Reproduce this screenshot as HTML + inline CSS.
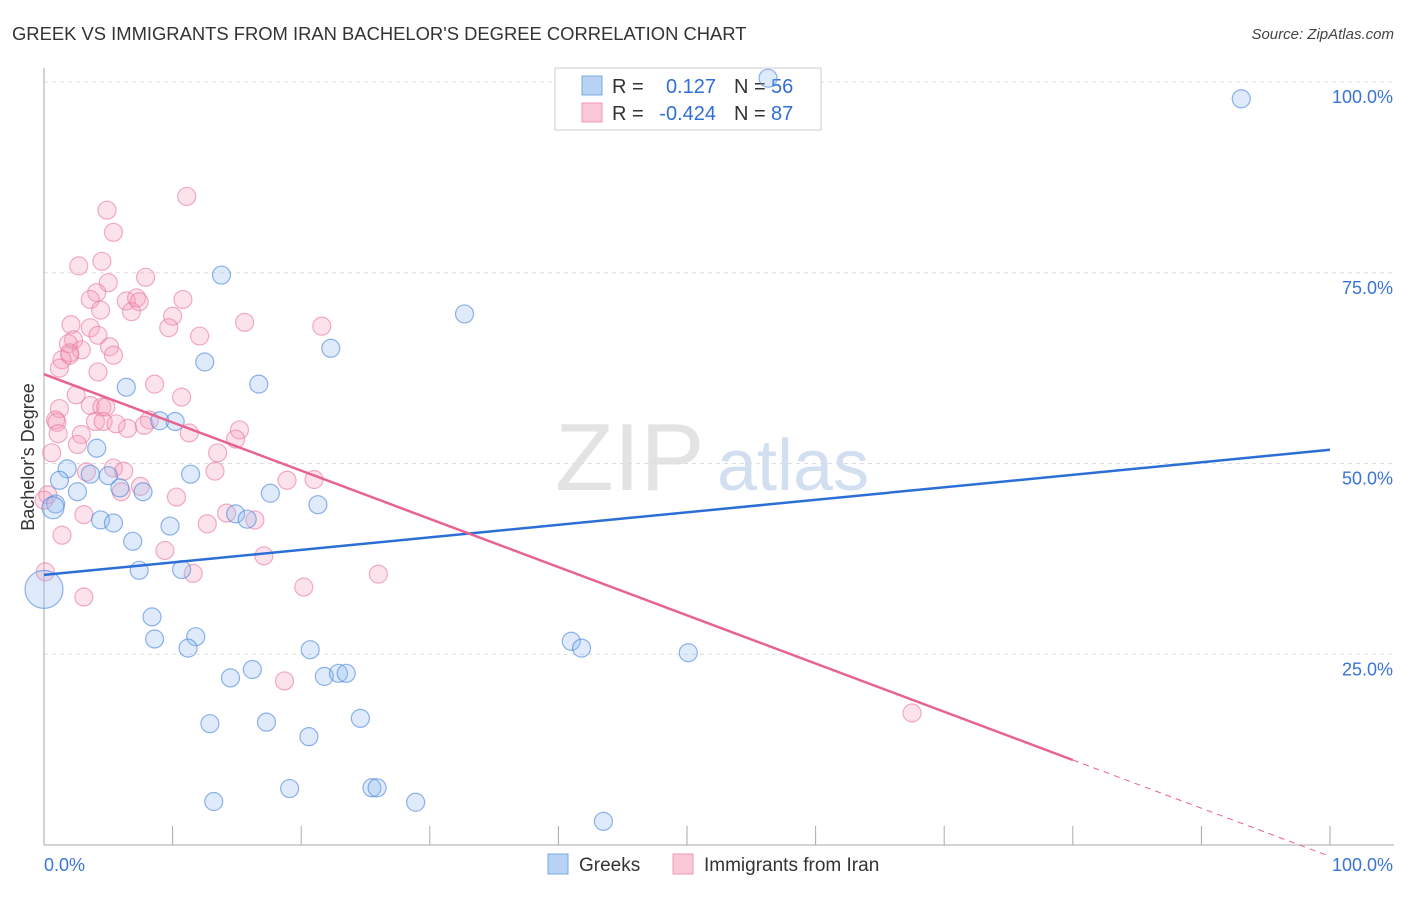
<!DOCTYPE html>
<html><head><meta charset="utf-8"><style>
body{margin:0;background:#fff;font-family:"Liberation Sans",sans-serif;}
svg text{font-family:"Liberation Sans",sans-serif;}
</style></head><body>
<svg id="chart" width="1406" height="892" viewBox="0 0 1406 892" xmlns="http://www.w3.org/2000/svg">
<text x="12" y="40" font-size="18.4" fill="#333">GREEK VS IMMIGRANTS FROM IRAN BACHELOR'S DEGREE CORRELATION CHART</text>
<text x="1394" y="39" font-size="15" fill="#444" text-anchor="end" font-style="italic">Source: ZipAtlas.com</text>
<text x="555" y="490" font-size="96" fill="#ddd" font-family="Liberation Serif" opacity="0.8">ZIP</text>
<text x="717" y="490" font-size="72" fill="#c8d8ee" opacity="0.8">atlas</text>
<g id="grid"></g>
<g id="axes"></g>
<g>
<rect x="555" y="68" width="266" height="62" fill="#fff" stroke="#ccc"/>
<rect x="582" y="76" width="20" height="19" fill="#b8d3f4" stroke="#7aa8e6"/>
<rect x="582" y="103" width="20" height="19" fill="#fbc8d8" stroke="#ef98b4"/>
<text x="612" y="93" font-size="20" fill="#333">R =</text>
<text x="716" y="93" font-size="20" fill="#2f6fd6" text-anchor="end">0.127</text>
<text x="734" y="93" font-size="20" fill="#333">N =</text>
<text x="771" y="93" font-size="20" fill="#2f6fd6">56</text>
<text x="612" y="120" font-size="20" fill="#333">R =</text>
<text x="716" y="120" font-size="20" fill="#2f6fd6" text-anchor="end">-0.424</text>
<text x="734" y="120" font-size="20" fill="#333">N =</text>
<text x="771" y="120" font-size="20" fill="#2f6fd6">87</text>
</g>
<g id="pts"></g>
<g id="trend"></g>
<text transform="translate(34,457) rotate(-90)" font-size="18" fill="#333" text-anchor="middle">Bachelor's Degree</text>
<g>
<rect x="548" y="854" width="20" height="20" fill="#b8d3f4" stroke="#7aa8e6"/>
<text x="579" y="871" font-size="19" fill="#333">Greeks</text>
<rect x="673" y="854" width="20" height="20" fill="#fbc8d8" stroke="#ef98b4"/>
<text x="704" y="871" font-size="19" fill="#333">Immigrants from Iran</text>
</g>
</svg>
<script>
const yTicks=[100,75,50,25];
const yTickLabels=["100.0%","75.0%","50.0%","25.0%"];
const xEndLabels=["0.0%","100.0%"];
const greekX=[56.3,93.1,13.8,32.7,22.3,12.5,6.4,16.7,9.0,10.2,4.1,1.8,1.2,3.6,5.0,5.9,7.7,2.6,11.4,0.9,17.6,21.3,14.9,15.8,4.4,5.4,9.8,6.9,7.4,10.7,8.4,8.6,11.8,11.2,20.7,41.0,41.8,50.1,16.2,14.5,21.8,22.9,23.5,12.9,17.3,24.6,20.6,19.1,25.5,25.9,13.2,28.9,43.5,0,0.7];
const greekY=[100.5,97.8,74.7,69.6,65.1,63.3,60.0,60.4,55.6,55.5,52.0,49.3,47.8,48.6,48.4,46.8,46.3,46.3,48.6,44.7,46.1,44.6,43.4,42.7,42.6,42.2,41.8,39.8,36.0,36.1,29.9,27.0,27.3,25.8,25.6,26.7,25.8,25.2,23.0,21.9,22.1,22.5,22.5,15.9,16.1,16.6,14.2,7.4,7.5,7.5,5.7,5.6,3.1,33.5,44.2];
const greekR=[9,9,9,9,9,9,9,9,9,9,9,9,9,9,9,9,9,9,9,9,9,9,9,9,9,9,9,9,9,9,9,9,9,9,9,9,9,9,9,9,9,9,9,9,9,9,9,9,9,9,9,9,9,19,11];
const iranX=[11.1,4.9,5.4,2.7,4.5,5.0,7.9,4.1,3.6,6.4,7.2,7.4,10.8,6.8,10.0,4.4,2.1,3.6,2.3,1.9,4.2,9.7,12.1,15.6,21.6,5.1,2.9,2.0,2.0,1.4,5.4,1.2,4.2,8.6,10.7,2.5,3.6,1.2,4.5,4.8,0.9,4.0,4.6,8.2,6.5,7.8,5.6,1.0,2.9,1.1,11.3,15.2,14.9,2.6,0.6,13.5,5.4,3.3,13.3,18.9,21.0,7.5,6.0,10.3,0.3,0,14.2,3.1,16.4,12.7,1.4,9.4,17.1,11.6,26.0,3.1,20.2,18.7,67.5,0.1,6.2];
const iranY=[85.0,83.2,80.3,75.9,76.5,73.7,74.4,72.4,71.5,71.3,71.7,71.2,71.5,69.9,69.3,70.1,68.2,67.8,66.2,65.7,66.8,67.8,66.7,68.5,68.0,65.3,64.9,64.2,64.5,63.6,64.2,62.5,62.0,60.4,58.7,59.0,57.6,57.2,57.4,57.4,55.7,55.5,55.5,55.7,54.6,55.0,55.2,55.4,53.8,53.9,54.0,54.4,53.2,52.5,51.4,51.4,49.4,48.9,49.0,47.8,47.9,47.0,46.3,45.6,45.9,45.2,43.5,43.3,42.6,42.1,40.6,38.6,37.9,35.6,35.5,32.5,33.8,21.5,17.3,35.8,49.0];
const greekTrend=[35.4,51.8];
const iranTrend=[61.7,-1.5];
const iranSolidEnd=80;
const X=v=>44+v*12.86, Y=v=>845-v*7.63;
const NS="http://www.w3.org/2000/svg";
function mk(tag,attrs,parent){const e=document.createElementNS(NS,tag);for(const k in attrs)e.setAttribute(k,attrs[k]);document.getElementById(parent).appendChild(e);return e;}
yTicks.forEach((t,i)=>{
 const g=mk('line',{x1:44,x2:1394,y1:Y(t),y2:Y(t),stroke:'#ddd','stroke-dasharray':'4,4'},'grid');
 
 
 const l=mk('text',{x:1393,y:Y(t)+21,'font-size':18,fill:'#3a74d6','text-anchor':'end'},'grid');
 l.textContent=yTickLabels[i];
 
 
});
const ya=mk('line',{x1:44,x2:44,y1:68,y2:845,stroke:'#aaa'},'axes');


const xa=mk('line',{x1:44,x2:1394,y1:845,y2:845,stroke:'#aaa'},'axes');


for(let i=1;i<=10;i++){const t=mk('line',{x1:X(i*10),x2:X(i*10),y1:826,y2:845,stroke:'#aaa'},'axes');
 
 }
const xl0=mk('text',{x:44,y:871,'font-size':18,fill:'#3a74d6'},'axes');xl0.textContent=xEndLabels[0];


const xl1=mk('text',{x:1393,y:871,'font-size':18,fill:'#3a74d6','text-anchor':'end'},'axes');xl1.textContent=xEndLabels[1];


iranX.forEach((x,i)=>{const c=mk('circle',{cx:X(x),cy:Y(iranY[i]),r:9,fill:'rgba(246,160,190,0.3)',stroke:'rgba(232,120,160,0.6)','stroke-width':1.2},'pts');
 
 });
greekX.forEach((x,i)=>{const c=mk('circle',{cx:X(x),cy:Y(greekY[i]),r:greekR[i],fill:'rgba(150,190,240,0.3)',stroke:'rgba(70,130,220,0.6)','stroke-width':1.2},'pts');
 
 });
const gt=mk('line',{x1:X(0),y1:Y(greekTrend[0]),x2:X(100),y2:Y(greekTrend[1]),stroke:'#2b6fd6','stroke-width':2.5},'trend');


const iy=v=>iranTrend[0]+(iranTrend[1]-iranTrend[0])*v/100;
const it=mk('line',{x1:X(0),y1:Y(iy(0)),x2:X(iranSolidEnd),y2:Y(iy(iranSolidEnd)),stroke:'#e8628f','stroke-width':2.5},'trend');


const id=mk('line',{x1:X(iranSolidEnd),y1:Y(iy(iranSolidEnd)),x2:X(100),y2:Y(iy(100)),stroke:'#e8628f','stroke-width':1,'stroke-dasharray':'6,5'},'trend');


</script>
</body></html>
